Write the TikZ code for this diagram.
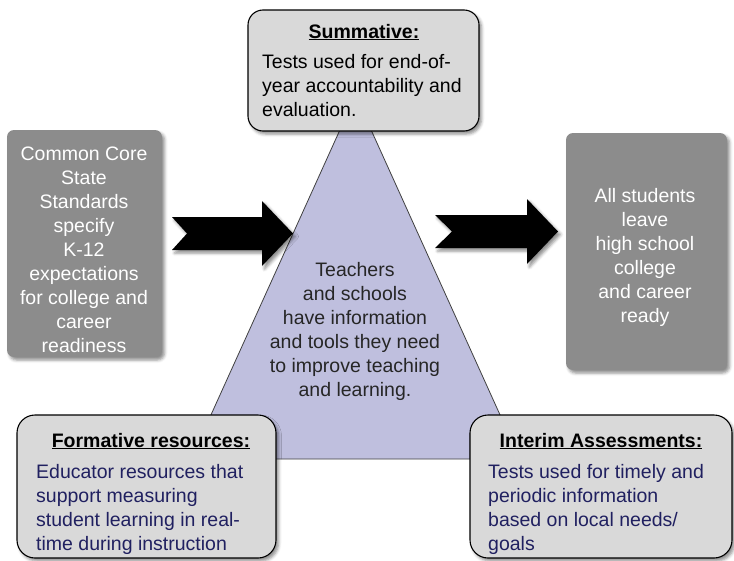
\documentclass[tikz,border=0pt]{standalone}
\usepackage{fontspec}
\setmainfont{Liberation Sans}
\usetikzlibrary{shadows.blur}
\definecolor{darkbox}{RGB}{140,140,140}
\definecolor{lightbox}{RGB}{217,217,217}
\definecolor{trifill}{RGB}{191,191,222}
\definecolor{navy}{RGB}{32,32,96}
\begin{document}
\begin{tikzpicture}[x=1pt,y=-1pt,
  txt/.style={font=\fontsize{19.5}{24}\selectfont, inner sep=0pt},
  sdw/.style={blur shadow={shadow xshift=2.5pt,shadow yshift=-3pt,shadow blur radius=3pt,shadow opacity=45}},
  graybox/.style={fill=darkbox, rounded corners=7pt, sdw},
  lightbx/.style={fill=lightbox, draw=black, line width=1.1pt, rounded corners=18pt, sdw},
  blockarrow/.style={fill=black, sdw},
  tribox/.style={fill=trifill, draw=black!75, line width=0.8pt}]
\useasboundingbox (0,0) rectangle (734,560);

% central triangle
\coordinate (apex) at (355.5,95.5);
\coordinate (bl) at (191,459);
\coordinate (br) at (520,459);
\draw[tribox] (apex) -- (br) -- (bl) -- cycle;

% side boxes
\path[graybox] (7,130) rectangle (162,357);
\node[txt, text=white, align=center] (ccss) at (84,250)
  {Common Core\\State\\Standards\\specify\\K-12\\expectations\\for college and\\career\\readiness};
\path[graybox] (566,133) rectangle (727,370);
\node[txt, text=white, align=center] (ready) at (645,257)
  {All students\\leave\\high school\\college\\and career\\ready};

% block arrows
\path[blockarrow] (172,217) -- (262,217) -- (262,201) -- (293,233.5) -- (262,266) -- (262,250) -- (172,250) -- (187,233.5) -- cycle;
\path[blockarrow] (435,215) -- (527,215) -- (527,199) -- (558,231.5) -- (527,264) -- (527,248) -- (435,248) -- (452,231.5) -- cycle;

% triangle text
\node[txt, text=black!85, align=center] (teach) at (355,331)
  {Teachers\\and schools\\have information\\and tools they need\\to improve teaching\\and learning.};

% summative
\path[lightbx, rounded corners=15pt] (248,10) rectangle (479,131);
\node[txt, anchor=base] (sumt) at (364,38) {\bfseries\underline{Summative:}};
\node[txt, anchor=base west, align=left] (sumb) at (262,116)
  {Tests used for end-of-\\year accountability and\\evaluation.};

% formative
\path[lightbx] (17,415) rectangle (276,558);
\node[txt, anchor=base] (formt) at (151,447) {\bfseries\underline{Formative resources:}};
\node[txt, anchor=base west, align=left, text=navy] (formb) at (36,550)
  {Educator resources that\\support measuring\\student learning in real-\\time during instruction};

% interim
\path[lightbx] (470,415) rectangle (732,558);
\node[txt, anchor=base] (intt) at (601,447) {\bfseries\underline{Interim Assessments:}};
\node[txt, anchor=base west, align=left, text=navy] (intb) at (488,550)
  {Tests used for timely and\\periodic information\\based on local needs/\\goals};
\end{tikzpicture}
\end{document}
